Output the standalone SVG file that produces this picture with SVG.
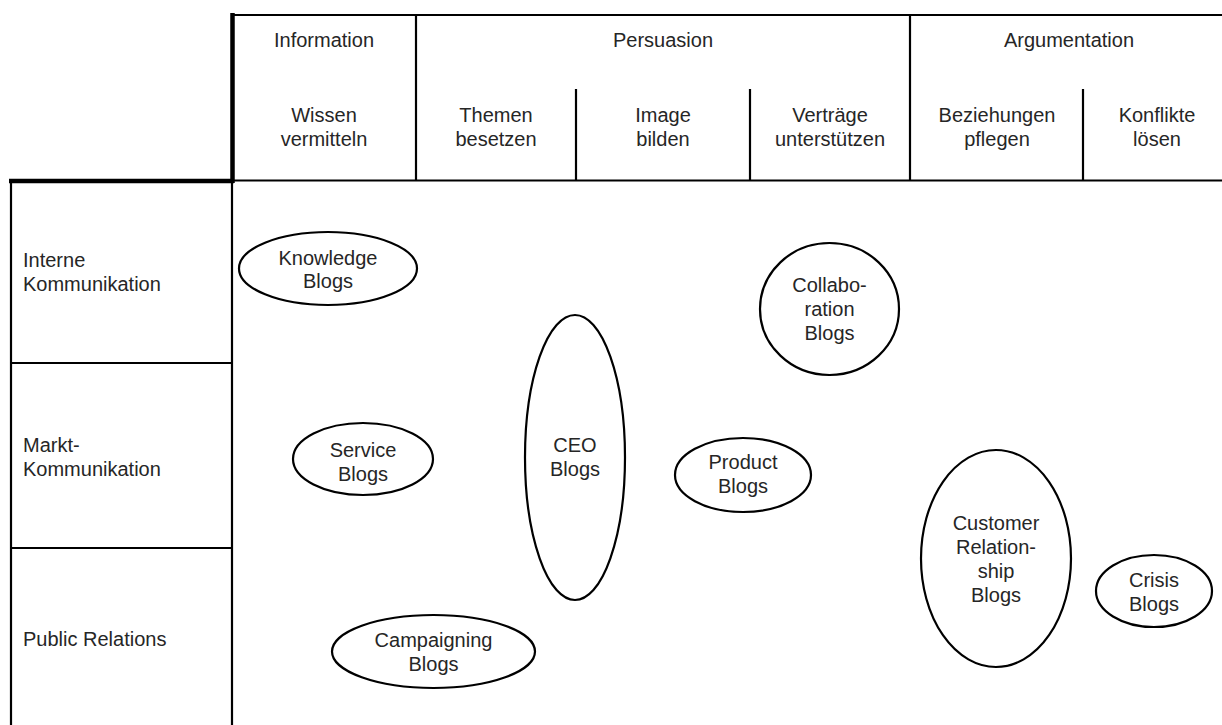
<svg xmlns="http://www.w3.org/2000/svg" width="1222" height="725" viewBox="0 0 1222 725">
<style>
.ln{stroke:#000;stroke-width:2.2;fill:none}
.thk{stroke:#000;stroke-width:4.5;fill:none}
.el{stroke:#000;stroke-width:2.2;fill:#fff}
text{font-family:"Liberation Sans",Arial,sans-serif;font-size:20px;fill:#262626;text-anchor:middle}
.l{text-anchor:start}
</style>
<rect width="1222" height="725" fill="#fff"/>
<g id="grid">
<line class="ln" x1="232" y1="15" x2="1230" y2="15"/>
<line class="ln" x1="232" y1="180.5" x2="1230" y2="180.5"/>
<line class="ln" x1="416" y1="15" x2="416" y2="180.5"/>
<line class="ln" x1="910" y1="15" x2="910" y2="180.5"/>
<line class="ln" x1="576" y1="89" x2="576" y2="180.5"/>
<line class="ln" x1="750" y1="89" x2="750" y2="180.5"/>
<line class="ln" x1="1083" y1="89" x2="1083" y2="180.5"/>
<line class="ln" x1="11" y1="180" x2="11" y2="730"/>
<line class="ln" x1="232" y1="180" x2="232" y2="730"/>
<line class="ln" x1="11" y1="363" x2="232" y2="363"/>
<line class="ln" x1="11" y1="548" x2="232" y2="548"/>
<line class="thk" x1="232.5" y1="13" x2="232.5" y2="183"/>
<line class="thk" x1="9" y1="181" x2="234" y2="181"/>
</g>
<g id="headers">
<text x="324" y="47">Information</text>
<text x="663" y="47">Persuasion</text>
<text x="1069" y="47">Argumentation</text>
<text x="324" y="122">Wissen</text><text x="324" y="146">vermitteln</text>
<text x="496" y="122">Themen</text><text x="496" y="146">besetzen</text>
<text x="663" y="122">Image</text><text x="663" y="146">bilden</text>
<text x="830" y="122">Verträge</text><text x="830" y="146">unterstützen</text>
<text x="997" y="122">Beziehungen</text><text x="997" y="146">pflegen</text>
<text x="1157" y="122">Konflikte</text><text x="1157" y="146">lösen</text>
</g>
<g id="rows">
<text class="l" x="23" y="267">Interne</text><text class="l" x="23" y="291">Kommunikation</text>
<text class="l" x="23" y="452">Markt-</text><text class="l" x="23" y="476">Kommunikation</text>
<text class="l" x="23" y="646">Public Relations</text>
</g>
<g id="knowledge">
<ellipse class="el" cx="328" cy="268.5" rx="89" ry="36.5"/>
<text x="328" y="265">Knowledge</text><text x="328" y="288">Blogs</text>
</g>
<g id="service">
<ellipse class="el" cx="363" cy="459" rx="70" ry="36"/>
<text x="363" y="457">Service</text><text x="363" y="481">Blogs</text>
</g>
<g id="campaigning">
<ellipse class="el" cx="433.5" cy="651.5" rx="101.5" ry="36.5"/>
<text x="433.5" y="647">Campaigning</text><text x="433.5" y="671">Blogs</text>
</g>
<g id="ceo">
<ellipse class="el" cx="575" cy="457.5" rx="50" ry="142.5"/>
<text x="575" y="452">CEO</text><text x="575" y="476">Blogs</text>
</g>
<g id="collaboration">
<ellipse class="el" cx="829.5" cy="309" rx="69.5" ry="66"/>
<text x="829.5" y="292">Collabo-</text><text x="829.5" y="316">ration</text><text x="829.5" y="340">Blogs</text>
</g>
<g id="product">
<ellipse class="el" cx="743" cy="475" rx="68" ry="37"/>
<text x="743" y="469">Product</text><text x="743" y="493">Blogs</text>
</g>
<g id="customer">
<ellipse class="el" cx="996" cy="558.5" rx="75" ry="108.5"/>
<text x="996" y="530">Customer</text><text x="996" y="554">Relation-</text><text x="996" y="578">ship</text><text x="996" y="602">Blogs</text>
</g>
<g id="crisis">
<ellipse class="el" cx="1154" cy="591" rx="58" ry="36"/>
<text x="1154" y="587">Crisis</text><text x="1154" y="611">Blogs</text>
</g>
<g id="connectors"></g>
</svg>
